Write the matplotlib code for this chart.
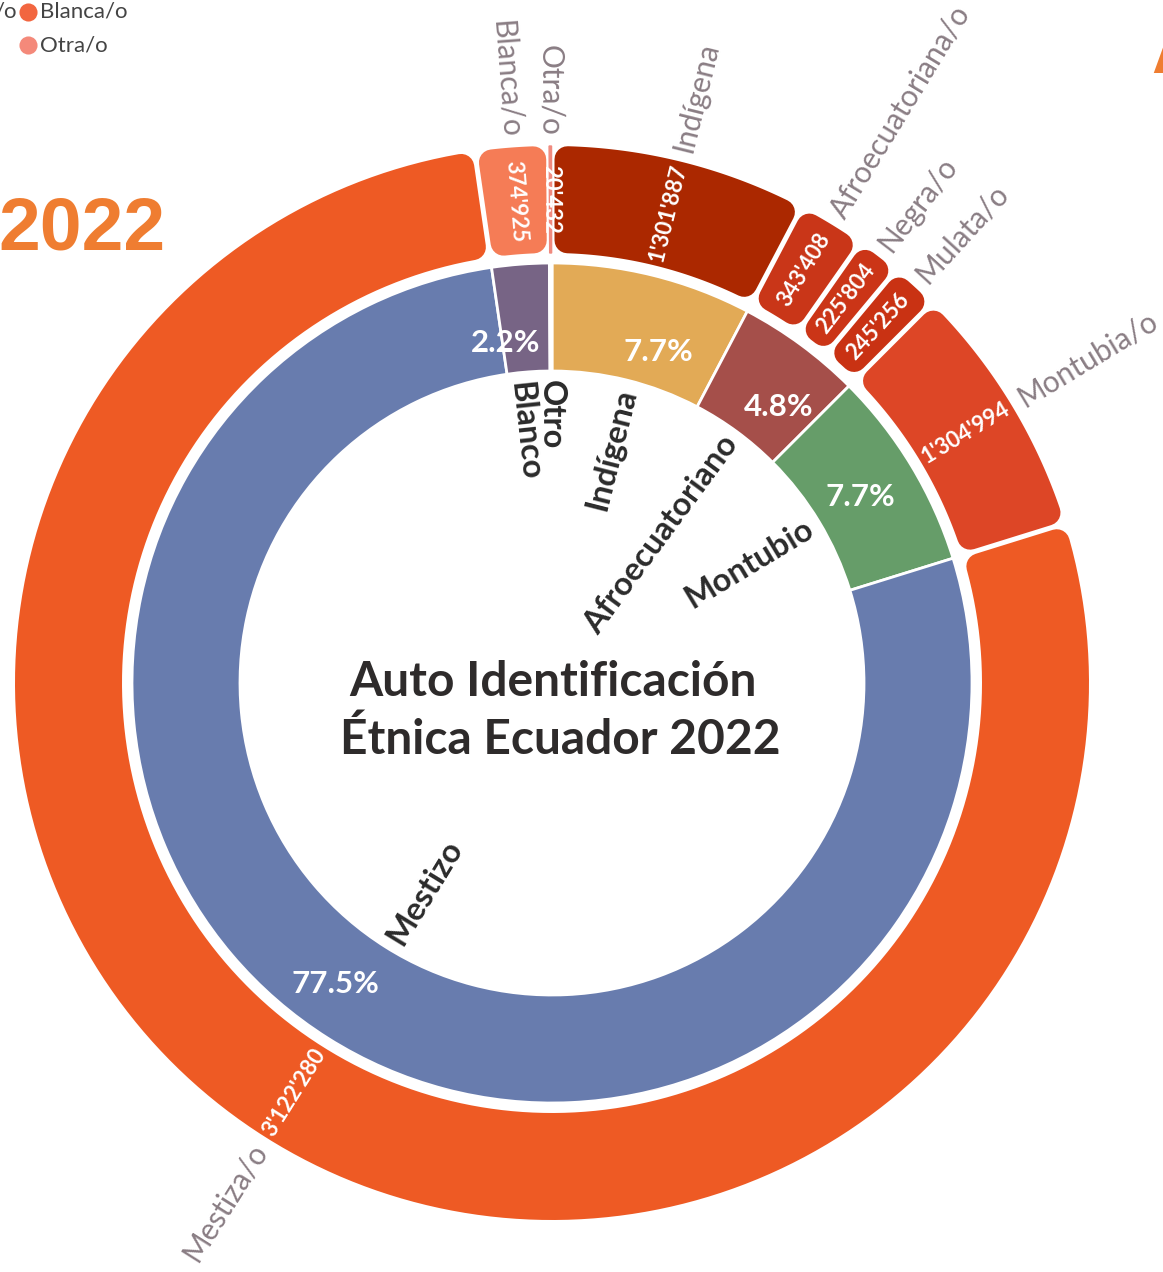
import numpy as np
import matplotlib
matplotlib.use("Agg")
import matplotlib.pyplot as plt
from matplotlib.patches import Polygon, Wedge

# inner ring: main groups (clockwise from 12 o'clock)
groups = ['Indígena', 'Afroecuatoriano', 'Montubio', 'Mestizo', 'Blanco', 'Otro']
group_pct = [7.7, 4.8, 7.7, 77.5, 2.2, 0.1]
group_colors = ['#e2aa56', '#a54f4a', '#669d69', '#687cae', '#776485', '#a9bbd8']

# outer ring: sub categories with counts
sub_names = ['Indígena', 'Afroecuatoriana/o', 'Negra/o', 'Mulata/o',
             'Montubia/o', 'Mestiza/o', 'Blanca/o', 'Otra/o']
sub_group = [0, 1, 1, 1, 2, 3, 4, 5]
sub_counts = [1301887, 343408, 225804, 245256, 1304994, 3122280, 374925, 20432]
sub_colors = ['#ab2800', '#c93618', '#cb3517', '#c93213',
              '#dd4626', '#ee5a24', '#f57c56', '#f08a7e']

legend_names = ['Blanca/o', 'Otra/o']
legend_colors = ['#f26640', '#f4897a']

# label placement tweaks (angle shift in degrees, radius in px)
pct_shift = [4, 3, 0, 3.5, -3.5, 0]
pct_radius = [348, 357, 360, 371, 343, 350]
name_shift = [0.4, 0, 0, -0.8, -1.8, 0]

W, H = 1163, 1272
DPI = 100
PT = 72.0 / DPI          # points per pixel
cx, cy = 552, H - 683    # centre of the rings (pixel units)
r_in1, r_out1 = 312, 420
r_in2, r_out2 = 430, 537

fig = plt.figure(figsize=(W / DPI, H / DPI), dpi=DPI)
ax = fig.add_axes([0, 0, 1, 1])

# inner donut
ax.pie(group_pct, colors=group_colors, startangle=90, counterclock=False,
       radius=r_out1, center=(cx, cy),
       wedgeprops=dict(width=r_out1 - r_in1, edgecolor='white', linewidth=2))


def polar(a, r):
    # a: degrees clockwise from the top
    t = np.radians(a)
    return cx + r * np.sin(t), cy + r * np.cos(t)


def rounded_sector(a1, a2, r1, r2, color, rc=13, gap=5):
    off = rc + gap / 2.
    ri, ro = r1 + rc, r2 - rc
    do = np.degrees(np.arcsin(off / ro))
    di = np.degrees(np.arcsin(off / ri))
    if a2 - a1 <= 2 * di + 0.2:
        w = Wedge((cx, cy), r2, 90 - a2 + 0.05, 90 - a1 - 0.05, width=r2 - r1,
                  facecolor=color, edgecolor=color, linewidth=1)
        ax.add_patch(w)
        return
    ao = np.linspace(a1 + do, a2 - do, 200)
    ai = np.linspace(a2 - di, a1 + di, 200)
    xo, yo = polar(ao, ro)
    xi, yi = polar(ai, ri)
    pts = np.column_stack([np.concatenate([xo, xi]), np.concatenate([yo, yi])])
    ax.add_patch(Polygon(pts, closed=True, facecolor=color, edgecolor=color,
                         linewidth=2 * rc * PT, joinstyle='round'))


# group angle bounds
gb = np.concatenate([[0], np.cumsum(group_pct)]) / 100. * 360
group_mid = (gb[:-1] + gb[1:]) / 2

# outer ring angles: split each group proportionally by the counts
sub_a1, sub_a2 = [], []
for g in range(len(groups)):
    idx = [i for i, s in enumerate(sub_group) if s == g]
    tot = sum(sub_counts[i] for i in idx)
    a = gb[g]
    for i in idx:
        span = (gb[g + 1] - gb[g]) * sub_counts[i] / tot
        sub_a1.append(a)
        sub_a2.append(a + span)
        a += span
sub_mid = [(a + b) / 2 for a, b in zip(sub_a1, sub_a2)]

for i in range(len(sub_names)):
    rounded_sector(sub_a1[i], sub_a2[i], r_in2, r_out2, sub_colors[i])


def radial_text(a, r, s, start, **kw):
    # start=True: text begins at r and goes outward; else it ends at r
    x, y = polar(a, r)
    if a % 360 < 180:
        rot = 90 - a
        ha = 'left' if start else 'right'
    else:
        rot = 270 - a
        ha = 'right' if start else 'left'
    ax.text(x, y, s, rotation=rot, rotation_mode='anchor', ha=ha, va='center', **kw)


# outer names and counts
for i, name in enumerate(sub_names):
    radial_text(sub_mid[i], r_out2 + 10, name, True, fontsize=21.5,
                color='#8a7d84', family='Lato')
    lbl = f"{sub_counts[i]:,}".replace(',', "'")
    x, y = polar(sub_mid[i], (r_in2 + r_out2) / 2)
    rot = 90 - sub_mid[i] if sub_mid[i] < 180 else 270 - sub_mid[i]
    ax.text(x, y, lbl, rotation=rot, rotation_mode='anchor', ha='center',
            va='center', fontsize=16, color='white', fontweight='bold', family='Lato')

# inner names (inside the hole) and percentages
for g, name in enumerate(groups):
    radial_text(group_mid[g] + name_shift[g], r_in1 - 9, name, False, fontsize=23.5,
                color='#2b2b2b', fontweight='bold', family='Lato')
    if group_pct[g] >= 1:
        x, y = polar(group_mid[g] + pct_shift[g], pct_radius[g])
        ax.text(x, y, f"{group_pct[g]}%", ha='center', va='center', fontsize=22.5,
                color='white', fontweight='bold', family='Lato')

# centre title
ax.text(cx + 1, H - 682, 'Auto Identificación', ha='center', va='center',
        fontsize=34.5, fontweight='bold', color='#2e2b2b', family='Lato')
ax.text(cx + 8, H - 740, 'Étnica Ecuador 2022', ha='center', va='center',
        fontsize=34.5, fontweight='bold', color='#2e2b2b', family='Lato')

# cropped legend in the corner
ax.text(17, H - 12, '/o', ha='right', va='center', fontsize=16, color='#444444', family='Lato')
for k, (nm, c) in enumerate(zip(legend_names, legend_colors)):
    y = H - 12 - 33 * k
    ax.scatter([28], [y], s=170, color=c, zorder=3, linewidths=0)
    ax.text(40, y, nm, ha='left', va='center', fontsize=16, color='#444444', family='Lato')

# cropped page headings
ax.text(-2, H - 249, '2022', ha='left', va='baseline', fontsize=54,
        fontweight='bold', color='#ef7d31', family='Liberation Sans')
ax.text(1151, H - 73, 'A', ha='left', va='baseline', fontsize=51,
        fontweight='bold', color='#ef7d31', family='Liberation Sans')

ax.set_xlim(0, W)
ax.set_ylim(0, H)
ax.set_aspect('equal')
ax.axis('off')
fig.savefig('out.png', dpi=DPI, facecolor='white')
